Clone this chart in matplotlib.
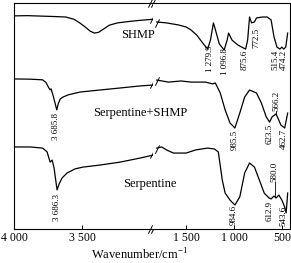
import numpy as np
import matplotlib
matplotlib.use('Agg')
import matplotlib.pyplot as plt

plt.rcParams['font.family'] = ['Liberation Serif', 'DejaVu Serif']
plt.rcParams['mathtext.fontset'] = 'custom'
plt.rcParams['mathtext.rm'] = 'Liberation Serif'

# ---- data (wavenumber cm-1, transmittance a.u.) ----
# high wavenumber segment (left of the break)
shmp_wn_hi = [4000, 3900, 3800, 3700, 3620, 3560, 3520, 3480, 3440, 3410, 3380, 3340, 3300, 3240, 3160, 3080, 2980]
shmp_t_hi = [94.3, 94.4, 94.2, 94.0, 93.8, 92.8, 91.3, 89.5, 87.5, 86.7, 87.0, 88.6, 90.2, 91.2, 91.8, 92.3, 92.8]

mix_wn_hi = [4000, 3880, 3790, 3765, 3745, 3735, 3728, 3715, 3700, 3686, 3675, 3660, 3640, 3600, 3515, 3370, 3220, 3075, 2980]
mix_t_hi = [66.4, 66.3, 66.0, 64.8, 62.5, 61.6, 62.0, 59.5, 56.0, 52.7, 55.5, 57.6, 58.4, 59.4, 60.6, 61.5, 62.4, 63.3, 63.7]

serp_wn_hi = [4000, 3880, 3790, 3757, 3735, 3720, 3706, 3684, 3669, 3647, 3610, 3552, 3493, 3368, 3221, 3074, 2980]
serp_t_hi = [36.3, 36.3, 35.8, 34.1, 29.6, 30.5, 27.0, 17.3, 19.9, 22.6, 24.8, 26.6, 27.4, 28.3, 29.6, 31.4, 32.7]

# low wavenumber segment (right of the break)
shmp_wn_lo = [1806, 1704, 1581, 1500, 1449, 1388, 1326, 1275, 1245, 1214, 1184, 1153, 1102, 1071, 1056,
              1020, 959, 878, 857, 837, 816, 786, 765, 704, 653, 612, 582, 551, 520, 500, 480, 459, 439]
shmp_t_lo = [91.6, 91.2, 90.3, 89.4, 88.1, 85.8, 82.3, 79.6, 83.6, 91.2, 86.7, 81.9, 79.2, 83.6, 86.7,
             83.6, 81.4, 79.6, 83.6, 93.8, 91.2, 91.6, 93.4, 93.8, 93.8, 92.5, 85.0, 80.5, 79.6, 80.5, 79.6, 80.5, 86.7]

mix_wn_lo = [1806, 1683, 1551, 1449, 1296, 1224, 1194, 1143, 1092, 1041, 990, 939, 888, 837, 765,
             714, 663, 628, 602, 561, 541, 510, 470, 439]
mix_t_lo = [65.9, 65.0, 65.5, 65.0, 65.0, 64.2, 64.6, 60.2, 52.7, 46.9, 44.7, 51.3, 58.4, 61.5, 60.2,
            55.8, 49.6, 47.3, 49.6, 50.9, 49.1, 46.0, 44.7, 51.3]

serp_wn_lo = [1806, 1755, 1704, 1632, 1500, 1398, 1275, 1204, 1163, 1122, 1092, 1041, 990, 939, 888,
              837, 786, 735, 684, 633, 612, 582, 561, 531, 500, 470, 455, 439]
serp_t_lo = [35.8, 36.3, 35.0, 33.6, 33.6, 35.0, 35.8, 35.4, 34.1, 21.7, 15.9, 12.8, 10.6, 14.2, 24.8,
             29.2, 27.4, 21.7, 15.9, 13.7, 13.3, 14.6, 13.7, 15.0, 12.8, 9.7, 7.1, 15.9]

# peak labels: text, wavenumber, transmittance, vertical anchor
peaks_hi = [('3 685.8', 3691, 51.3, 'top'), ('3 686.3', 3684, 15.5, 'top')]
peaks_lo = [('1 279.9', 1255, 81.4, 'top'), ('1 096.8', 1092, 80.1, 'top'), ('875.6', 888, 79.2, 'top'),
            ('772.5', 765, 88.9, 'top'), ('515.4', 566, 79.2, 'top'), ('474.2', 474, 79.2, 'top'),
            ('985.5', 990, 43.8, 'top'), ('623.5', 628, 46.5, 'top'), ('566.2', 561, 52.2, 'bottom'),
            ('462.7', 480, 44.3, 'top'), ('984.6', 1000, 10.6, 'top'), ('612.9', 623, 12.4, 'top'),
            ('580.0', 572, 21.0, 'bottom'), ('543.6', 480, 10.2, 'top')]

ticks_hi = [4000, 3500]
ticks_lo = [1500, 1000, 500]

W, H = 291, 263
fig = plt.figure(figsize=(W / 100, H / 100), dpi=100)
axL = fig.add_axes([14 / W, 1 - 229 / H, (153 - 14) / W, 226 / H])
axR = fig.add_axes([153 / W, 1 - 229 / H, (289.5 - 153) / W, 226 / H])

lw = 0.9
for wn, t in [(shmp_wn_hi, shmp_t_hi), (mix_wn_hi, mix_t_hi), (serp_wn_hi, serp_t_hi)]:
    axL.plot(wn, t, color='black', lw=lw)
for wn, t in [(shmp_wn_lo, shmp_t_lo), (mix_wn_lo, mix_t_lo), (serp_wn_lo, serp_t_lo)]:
    axR.plot(wn, t, color='black', lw=lw)

axL.set_xlim(4000, 2980)
axR.set_xlim(1845, 420)
for ax in (axL, axR):
    ax.set_ylim(0, 100)
    ax.set_yticks([])
    ax.tick_params(axis='x', direction='in', length=3, width=0.7, labelsize=8.5, pad=2.5)
    for s in ax.spines.values():
        s.set_linewidth(0.8)
axL.spines['right'].set_visible(False)
axR.spines['left'].set_visible(False)
axL.set_xticks(ticks_hi)
axL.set_xticklabels(['4 000', '3 500'])
axR.set_xticks(ticks_lo)
axR.set_xticklabels(['1 500', '1 000', '500'])

# break marks on the frame and on each curve
brk = dict(marker=[(-0.6, -1.2), (0.6, 1.2)], markersize=6, linestyle='none',
           color='black', mew=0.7, clip_on=False)
for yy in (0, 1):
    axL.plot([0.975, 1.0], [yy, yy], transform=axL.transAxes, **brk)
for t in (shmp_t_hi, mix_t_hi, serp_t_hi):
    axL.plot([2990], [t[-1] + 0.3], **brk)
for t in (shmp_t_lo, mix_t_lo, serp_t_lo):
    axR.plot([1800], [t[0] - 0.3], **brk)

for txt, x, y, va in peaks_hi:
    axL.text(x, y, txt, rotation=90, ha='center', va=va, fontsize=6.5)
for txt, x, y, va in peaks_lo:
    axR.text(x, y, txt, rotation=90, ha='center', va=va, fontsize=6.5, clip_on=False)

# leader lines for the labels placed above the curve
axR.plot([561, 561], [50.9, 52.2], color='black', lw=0.6)
axR.plot([575, 575], [14.8, 21.0], color='black', lw=0.6)

fig.text(138 / W, 1 - 35 / H, 'SHMP', ha='center', va='center', fontsize=9)
fig.text(140 / W, 1 - 113 / H, 'Serpentine+SHMP', ha='center', va='center', fontsize=9)
fig.text(150 / W, 1 - 184 / H, 'Serpentine', ha='center', va='center', fontsize=9)
fig.text(140 / W, 1 - 255 / H, 'Wavenumber/cm$^{\\mathregular{-1}}$', ha='center', va='center', fontsize=9)

fig.savefig('out.png', dpi=100)
